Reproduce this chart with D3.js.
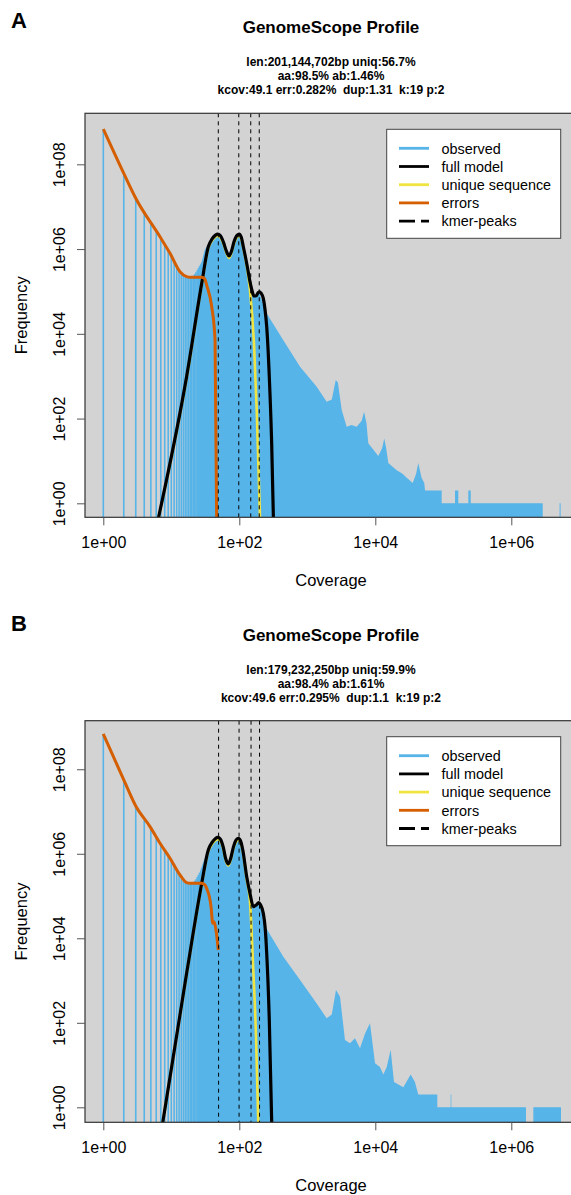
<!DOCTYPE html>
<html>
<head>
<meta charset="utf-8">
<script src="https://cdn.jsdelivr.net/npm/d3@7"></script>
<style>
  body { margin: 0; background: #fff; }
  text { font-family: "Liberation Sans", Arial, Helvetica, sans-serif; fill: #000; }
</style>
</head>
<body>
<div id="chart"></div>
<script>
// ---------- shared ----------
var lowCov = [1,2,3,4,5,6,7,8,9,10,11,12,13,14,15,16,17,18,19,20,21,22,23,24,25,26];
var xTicks = [1, 100, 1e4, 1e6];
var yTicks = [1, 100, 1e4, 1e6, 1e8];
var legendLabels = ["observed", "full model", "unique sequence", "errors", "kmer-peaks"];

// ---------- panel A ----------
var statsA = ["len:201,144,702bp uniq:56.7%", "aa:98.5% ab:1.46%", "kcov:49.1 err:0.282%  dup:1.31  k:19 p:2"];
var obsLowA = [6.76e8, 6.17e7, 1.58e7, 7.24e6, 3.98e6, 2.51e6, 1.82e6, 1.26e6, 9.33e5, 7.08e5, 5.37e5, 4.17e5, 3.31e5,
               2.75e5, 2.45e5, 2.29e5, 2.19e5, 2.19e5, 2.19e5, 2.24e5, 2.34e5, 2.57e5, 2.82e5, 3.16e5, 3.55e5, 3.98e5];
var obsCovA = [26, 28, 31, 37, 41.7, 49, 57.5, 70.6, 83.2, 99, 114.6, 131, 143.5, 164.4, 182, 196.8, 213.8, 253,
               444, 782, 1374, 1928, 2290, 2620, 2818, 3206, 3793, 4467, 5321, 6310, 6823, 7413, 7889,
               11066, 12589, 13552, 14454, 15524, 20654, 25119, 28973, 35481, 39811, 42855, 47863, 52481, 53827,
               94600, 94600, 148600, 148600, 166300, 166300, 233300, 233300, 252900, 252900,
               2897000, 2897000, 5130000, 5130000, 5310000];
var obsFreqA = [3.98e5, 5.0e5, 9.5e5, 1.58e6, 2.0e6, 2.14e6, 1.41e6, 6.6e5, 1.41e6, 2.14e6, 1.07e6, 3.63e5, 1.58e5, 7.4e4, 8.5e4, 9.3e4, 6.3e4, 3.0e4,
                7100, 1670, 565, 250, 282, 813, 708, 159, 64, 71, 64, 89, 145, 79, 26,
                13, 20, 34, 20, 9, 6, 5, 4, 3, 5, 9, 4, 3, 2,
                2, 1, 1, 2, 2, 1, 1, 2, 2, 1,
                1, 0, 0, 1, 1];
var errCovA = [1, 2, 3, 6.82, 9.57, 13.4, 16.8, 18.8, 28, 30.9, 33.1, 39.3, 44, 46.6];
var errFreqA = [6.81e8, 6.12e7, 1.58e7, 1.95e6, 7.94e5, 2.92e5, 2.23e5, 2.15e5, 2.15e5, 2.0e5, 1.41e5, 4.37e4, 7100, 0.25];
var fullCovA = [6.0, 16.8, 28, 35, 39.8, 44.7, 48.1, 52.5, 58.2, 64.6, 70.6, 76.7, 83.6, 91.2, 99.1, 107, 114.6, 123,
                131.2, 143.5, 155, 164.4, 177.8, 188.4, 196.8, 208.9, 225.4, 239.9, 252.9, 276.1, 299.2, 319.9];
var fullFreqA = [0.26, 977, 1.55e5, 1.135e6, 1.74e6, 2.14e6, 2.26e6, 2.09e6, 1.48e6, 8.9e5, 6.86e5, 8.9e5, 1.48e6, 2.04e6, 2.26e6, 1.9e6, 1.135e6, 6.6e5,
                 3.84e5, 1.7e5, 1.0e5, 7.8e4, 7.94e4, 9.33e4, 9.84e4, 9.12e4, 6.89e4, 3.55e4, 1.47e4, 973, 26, 0.25];
var uniqCovA = [6.0, 16.8, 28, 35, 39.8, 44.7, 48.1, 52.5, 58.2, 64.6, 70.6, 76.7, 83.6, 91.2, 99.1, 107, 114.6, 123,
                131.2, 143.5, 164.4, 180.3, 201.4, 204.2];
var uniqFreqA = [0.25, 900, 1.45e5, 1.05e6, 1.58e6, 1.95e6, 2.05e6, 1.9e6, 1.35e6, 8.2e5, 6.2e5, 8.2e5, 1.35e6, 1.86e6, 2.05e6, 1.74e6, 1.03e6, 5.9e5,
                 3.3e5, 1.08e5, 5970, 158, 0.47, 0.25];
var peaksA = [49.1, 98.2, 147.3, 196.4];

// ---------- panel B ----------
var statsB = ["len:179,232,250bp uniq:59.9%", "aa:98.4% ab:1.61%", "kcov:49.6 err:0.295%  dup:1.1  k:19 p:2"];
var obsLowB = [6.84e8, 5.62e7, 1.38e7, 7.08e6, 4.07e6, 2.51e6, 1.66e6, 1.23e6, 9.12e5, 6.76e5, 5.13e5, 3.98e5, 3.09e5,
               2.51e5, 2.24e5, 2.09e5, 2.0e5, 2.0e5, 2.0e5, 2.04e5, 2.14e5, 2.29e5, 2.51e5, 2.82e5, 3.16e5, 3.55e5];
var obsCovB = [26, 28, 31, 37.1, 41.7, 49, 57.5, 68.9, 83.2, 96.6, 112, 128.5, 143.5, 160.7, 177.8, 192.8, 210, 225.4,
               444, 782, 1374, 1928, 2291, 2642, 3027, 3581, 4246, 5023, 5957, 7063, 8356, 9908,
               11722, 13122, 14723, 16827, 18836, 25823, 33113, 38282, 42855,
               81658, 81658, 128200, 128200, 131200, 131200, 1644000, 1644000, 2109000, 2109000, 5380000];
var obsFreqB = [3.55e5, 4.96e5, 7.8e5, 1.77e6, 2.2e6, 2.34e6, 1.38e6, 5.4e5, 1.45e6, 2.24e6, 1.2e6, 2.82e5, 1.17e5, 5.6e4, 6.0e4, 6.6e4, 5.0e4, 2.26e4,
                3673, 1030, 288, 128, 158, 597, 415, 39, 33, 43, 25, 56, 97, 11,
                9, 6, 9, 23, 4, 3, 6, 4, 2,
                2, 1, 1, 2, 2, 1, 1, 0, 0, 1, 1];
var errCovB = [1, 2, 3, 4.86, 6.82, 9.57, 13.4, 16.8, 18.8, 28, 30.9, 33.1, 38.4, 40.6, 42.5, 45, 49.1];
var errFreqB = [6.84e8, 5.58e7, 1.35e7, 4.38e6, 1.77e6, 7.82e5, 3.15e5, 2.07e5, 2.0e5, 2.0e5, 1.86e5, 1.52e5, 5.6e4, 2.26e4, 2.45e4, 1.73e4, 5280];
var fullCovB = [7.08, 16.8, 28, 35, 39.8, 44.7, 48.1, 52.5, 58.2, 63.1, 68.9, 75, 82.2, 89.1, 96.6, 104.7, 112.2,
                128.5, 143.5, 160.7, 177.8, 192.8, 204.2, 225.4, 239.9, 252.9, 276.1, 302];
var fullFreqB = [0.25, 1479, 2.0e5, 1.23e6, 1.86e6, 2.29e6, 2.45e6, 2.24e6, 1.41e6, 7.6e5, 5.73e5, 7.94e5, 1.48e6, 2.09e6, 2.33e6, 2.0e6, 1.26e6,
                 2.87e5, 1.16e5, 5.6e4, 6.17e4, 6.97e4, 6.3e4, 3.89e4, 1.78e4, 4420, 116, 0.25];
var uniqCovB = [7.08, 16.8, 28, 35, 39.8, 44.7, 48.1, 52.5, 58.2, 63.1, 68.9, 75, 82.2, 89.1, 96.6, 104.7, 112.2,
                128.5, 143.5, 160.7, 176.2, 190.1, 192.8];
var uniqFreqB = [0.25, 1400, 1.9e5, 1.14e6, 1.7e6, 2.08e6, 2.22e6, 2.04e6, 1.3e6, 7.0e5, 5.3e5, 7.3e5, 1.36e6, 1.9e6, 2.12e6, 1.82e6, 1.15e6,
                 2.5e5, 7.35e4, 1778, 46.9, 0.44, 0.25];
var peaksB = [49.6, 99.2, 148.8, 198.4];

// ---------- layout ----------
var svgWidth = 571;
var svgHeight = 1195;
var colors = {obs: "#56B4E9", full: "#000000", uniq: "#F0E442", err: "#D55E00", bg: "#D3D3D3"};

var svg = d3.select("#chart").append("svg")
            .attr("width", svgWidth)
            .attr("height", svgHeight);

var zip = (a, b) => a.map((v, i) => [v, b[i]]);

var panels = [
  {id: "A", letterY: 28, headY: 0, top: 113.3, bottom: 517.3, yDomain: [0.468, 1.6e9], stats: statsA,
   low: obsLowA, obs: zip(obsCovA, obsFreqA), err: zip(errCovA, errFreqA), full: zip(fullCovA, fullFreqA),
   uniq: zip(uniqCovA, uniqFreqA), peaks: peaksA},
  {id: "B", letterY: 631, headY: 608, top: 720.7, bottom: 1122.3, yDomain: [0.442, 1.41e9], stats: statsB,
   low: obsLowB, obs: zip(obsCovB, obsFreqB), err: zip(errCovB, errFreqB), full: zip(fullCovB, fullFreqB),
   uniq: zip(uniqCovB, uniqFreqB), peaks: peaksB}
];

var plotLeft = 85, plotRight = 577;
var expFormat = d => "1e+" + String(Math.round(Math.log10(d))).padStart(2, "0");

panels.forEach(function(p) {
  var xScale = d3.scaleLog().domain([0.538, 9.25e6]).range([plotLeft, plotRight]);
  var yScale = d3.scaleLog().domain(p.yDomain).range([p.bottom, p.top]);
  var g = svg.append("g");

  // headings
  g.append("text").attr("x", 11).attr("y", p.letterY)
   .attr("font-size", 22).attr("font-weight", "bold").text(p.id);
  g.append("text").attr("x", 331).attr("y", p.headY + 33).attr("text-anchor", "middle")
   .attr("font-size", 17).attr("font-weight", "bold").text("GenomeScope Profile");
  g.selectAll(".stat").data(p.stats).enter().append("text")
   .attr("x", 331).attr("y", (d, i) => p.headY + 66 + i * 14)
   .attr("text-anchor", "middle").attr("font-size", 12).attr("font-weight", "bold")
   .style("white-space", "pre").text(d => d);

  // plot background + clip
  var clipId = "clip" + p.id;
  g.append("clipPath").attr("id", clipId).append("rect")
   .attr("x", plotLeft).attr("y", p.top).attr("width", plotRight - plotLeft).attr("height", p.bottom - p.top);
  g.append("rect").attr("x", plotLeft).attr("y", p.top)
   .attr("width", plotRight - plotLeft).attr("height", p.bottom - p.top).attr("fill", colors.bg);

  var plot = g.append("g").attr("clip-path", "url(#" + clipId + ")");

  // observed: single bars at low coverage, then the dense part as an area
  plot.selectAll(".lowbar").data(p.low).enter().append("line")
      .attr("x1", (d, i) => xScale(lowCov[i])).attr("x2", (d, i) => xScale(lowCov[i]))
      .attr("y1", d => yScale(d)).attr("y2", p.bottom + 2)
      .attr("stroke", colors.obs).attr("stroke-width", 1.6);

  var obsArea = d3.area()
      .defined(d => d[1] > 0)
      .x(d => xScale(d[0]))
      .y0(p.bottom + 2)
      .y1(d => yScale(d[1]));
  plot.append("path").datum(p.obs).attr("d", obsArea).attr("fill", colors.obs);

  var line = d3.line().curve(d3.curveMonotoneX).x(d => xScale(d[0])).y(d => yScale(d[1]));
  plot.append("path").datum(p.uniq).attr("d", line).attr("fill", "none")
      .attr("stroke", colors.uniq).attr("stroke-width", 2.6);
  plot.append("path").datum(p.full).attr("d", line).attr("fill", "none")
      .attr("stroke", colors.full).attr("stroke-width", 3.2).attr("stroke-linejoin", "round");
  plot.append("path").datum(p.err).attr("d", line).attr("fill", "none")
      .attr("stroke", colors.err).attr("stroke-width", 3).attr("stroke-linejoin", "round");

  plot.selectAll(".peak").data(p.peaks).enter().append("line")
      .attr("x1", d => xScale(d)).attr("x2", d => xScale(d))
      .attr("y1", p.top).attr("y2", p.bottom)
      .attr("stroke", "#000").attr("stroke-width", 1).attr("stroke-dasharray", "4,4");

  // box
  g.append("rect").attr("x", plotLeft).attr("y", p.top)
   .attr("width", plotRight - plotLeft).attr("height", p.bottom - p.top)
   .attr("fill", "none").attr("stroke", "#333").attr("stroke-width", 1.2);

  // axes
  var bottomAxis = d3.axisBottom(xScale).tickValues(xTicks).tickFormat(expFormat).tickSize(8).tickPadding(11);
  var xAxis = g.append("g").attr("transform", `translate(0,${p.bottom})`).call(bottomAxis);
  xAxis.select(".domain").remove();
  xAxis.selectAll("line").attr("stroke", "#555");
  xAxis.selectAll("text").attr("font-size", 16).attr("font-family", null);

  var leftAxis = d3.axisLeft(yScale).tickValues(yTicks).tickFormat(expFormat).tickSize(8);
  var yAxis = g.append("g").attr("transform", `translate(${plotLeft},0)`).call(leftAxis);
  yAxis.select(".domain").remove();
  yAxis.selectAll("line").attr("stroke", "#555");
  yAxis.selectAll("text").attr("font-size", 16).attr("font-family", null)
       .attr("transform", "rotate(-90)").attr("x", 0).attr("y", -20).attr("dy", 0)
       .attr("text-anchor", "middle");

  g.append("text").attr("x", 331).attr("y", p.bottom + 69).attr("text-anchor", "middle")
   .attr("font-size", 16.5).text("Coverage");
  g.append("text").attr("transform", `translate(27,${(p.top + p.bottom) / 2}) rotate(-90)`)
   .attr("text-anchor", "middle").attr("font-size", 16.5).text("Frequency");

  // legend
  var lgTop = p.top + 16;
  var legend = g.append("g");
  legend.append("rect").attr("x", 386.7).attr("y", lgTop).attr("width", 174).attr("height", 109)
        .attr("fill", "#fff").attr("stroke", "#444").attr("stroke-width", 1);
  var lgColors = [colors.obs, colors.full, colors.uniq, colors.err, "#000"];
  legendLabels.forEach(function(lab, i) {
    var cy = lgTop + 19 + i * 18.2;
    legend.append("line").attr("x1", 399).attr("x2", 429).attr("y1", cy).attr("y2", cy)
          .attr("stroke", lgColors[i]).attr("stroke-width", 2.8)
          .attr("stroke-dasharray", i === 4 ? "16,6" : null);
    legend.append("text").attr("x", 441.5).attr("y", cy + 5.2).attr("font-size", 14.4).text(lab);
  });
});
</script>
</body>
</html>
